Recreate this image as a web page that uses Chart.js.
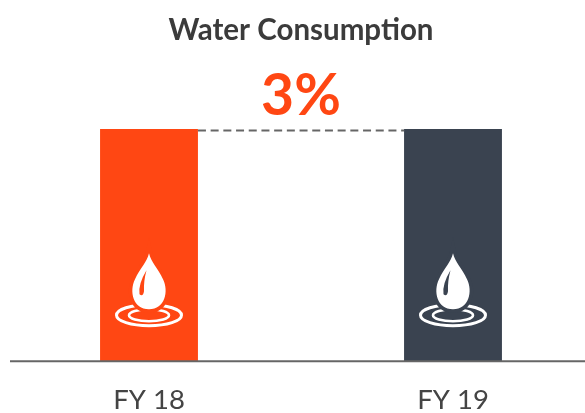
<!DOCTYPE html>
<html><head><meta charset="utf-8">
<script src="https://cdn.jsdelivr.net/npm/chart.js@4"></script>
<style>html,body{margin:0;padding:0;background:#fff;overflow:hidden;width:585px;height:413px}
canvas{position:absolute;left:-3px;top:0}</style></head>
<body><canvas id="c" width="608" height="413"></canvas>
<script>
const categories = ['FY 18', 'FY 19'];
const values = [100, 100];
const barColors = ['#FF4713', '#3A4350'];
const titleText = 'Water Consumption';
const changeText = '3%';

function dropPath(ctx, x, tipY) {
  ctx.beginPath();
  ctx.moveTo(x, tipY);
  ctx.bezierCurveTo(x + 2, tipY + 9, x + 9, tipY + 15, x + 14, tipY + 26);
  ctx.bezierCurveTo(x + 20, tipY + 38, x + 16, tipY + 56, x, tipY + 56);
  ctx.bezierCurveTo(x - 16, tipY + 56, x - 20, tipY + 38, x - 14, tipY + 26);
  ctx.bezierCurveTo(x - 9, tipY + 15, x - 2, tipY + 9, x, tipY);
  ctx.closePath();
}
const decor = {
  id: 'decor',
  afterDatasetsDraw(chart) {
    const ctx = chart.ctx;
    const y = chart.scales.y, x = chart.scales.x;
    const base = y.getPixelForValue(0);
    const bars = chart.getDatasetMeta(0).data;
    ctx.save();
    // baseline
    ctx.strokeStyle = '#666';
    ctx.lineWidth = 2;
    ctx.beginPath();
    ctx.moveTo(13, base);
    ctx.lineTo(chart.width, base);
    ctx.stroke();
    // dashed connector between the bar tops
    ctx.setLineDash([8, 4.7]);
    ctx.beginPath();
    ctx.moveTo(bars[0].x + bars[0].width / 2, bars[0].y + 1.5);
    ctx.lineTo(bars[1].x - bars[1].width / 2, bars[1].y + 1.5);
    ctx.stroke();
    ctx.setLineDash([]);
    // icons
    bars.forEach((bar, i) => {
      const cx = bar.x, tip = base - 108, ringY = base - 46;
      ctx.strokeStyle = '#fff';
      ctx.lineWidth = 3;
      ctx.beginPath(); ctx.ellipse(cx, ringY, 32.5, 10.5, 0, 0, Math.PI * 2); ctx.stroke();
      ctx.lineWidth = 2.6;
      ctx.beginPath(); ctx.ellipse(cx, ringY, 20, 6, 0, 0, Math.PI * 2); ctx.stroke();
      dropPath(ctx, cx, tip);
      ctx.strokeStyle = barColors[i];
      ctx.lineWidth = 7;
      ctx.stroke();
      ctx.fillStyle = '#fff';
      ctx.fill();
      // highlight
      ctx.fillStyle = barColors[i];
      ctx.beginPath();
      ctx.moveTo(cx - 2.5, tip + 17);
      ctx.quadraticCurveTo(cx - 11, tip + 31, cx - 9.5, tip + 41);
      ctx.quadraticCurveTo(cx - 6, tip + 44, cx - 5, tip + 38);
      ctx.quadraticCurveTo(cx - 5.5, tip + 28, cx - 2.5, tip + 17);
      ctx.fill();
    });
    // change label
    const midX = (x.getPixelForValue(0) + x.getPixelForValue(1)) / 2;
    ctx.fillStyle = '#FF4713';
    ctx.font = '700 57px Lato';
    ctx.textAlign = 'center';
    ctx.textBaseline = 'alphabetic';
    ctx.fillText(changeText, midX, y.getPixelForValue(100) - 14);
    ctx.restore();
  }
};
new Chart(document.getElementById('c'), {
  data: {
    labels: categories,
    datasets: [
      { type: 'bar', data: values, backgroundColor: barColors, categoryPercentage: 1, barPercentage: 0.322 }
    ]
  },
  options: {
    responsive: false, animation: false,
    layout: { padding: { bottom: -18 } },
    plugins: {
      legend: { display: false },
      tooltip: { enabled: false },
      title: { display: true, text: titleText, color: '#3b3b3b', font: { family: 'Lato', size: 29.5, weight: '700' }, padding: { top: 13, bottom: 80.5 } }
    },
    scales: {
      x: { grid: { display: false }, border: { display: false },
           ticks: { color: '#444', font: { family: 'Lato', size: 27.5 }, padding: 14.4, maxRotation: 0 } },
      y: { display: false, min: 0, max: 100 }
    }
  },
  plugins: [decor]
});
</script></body></html>
